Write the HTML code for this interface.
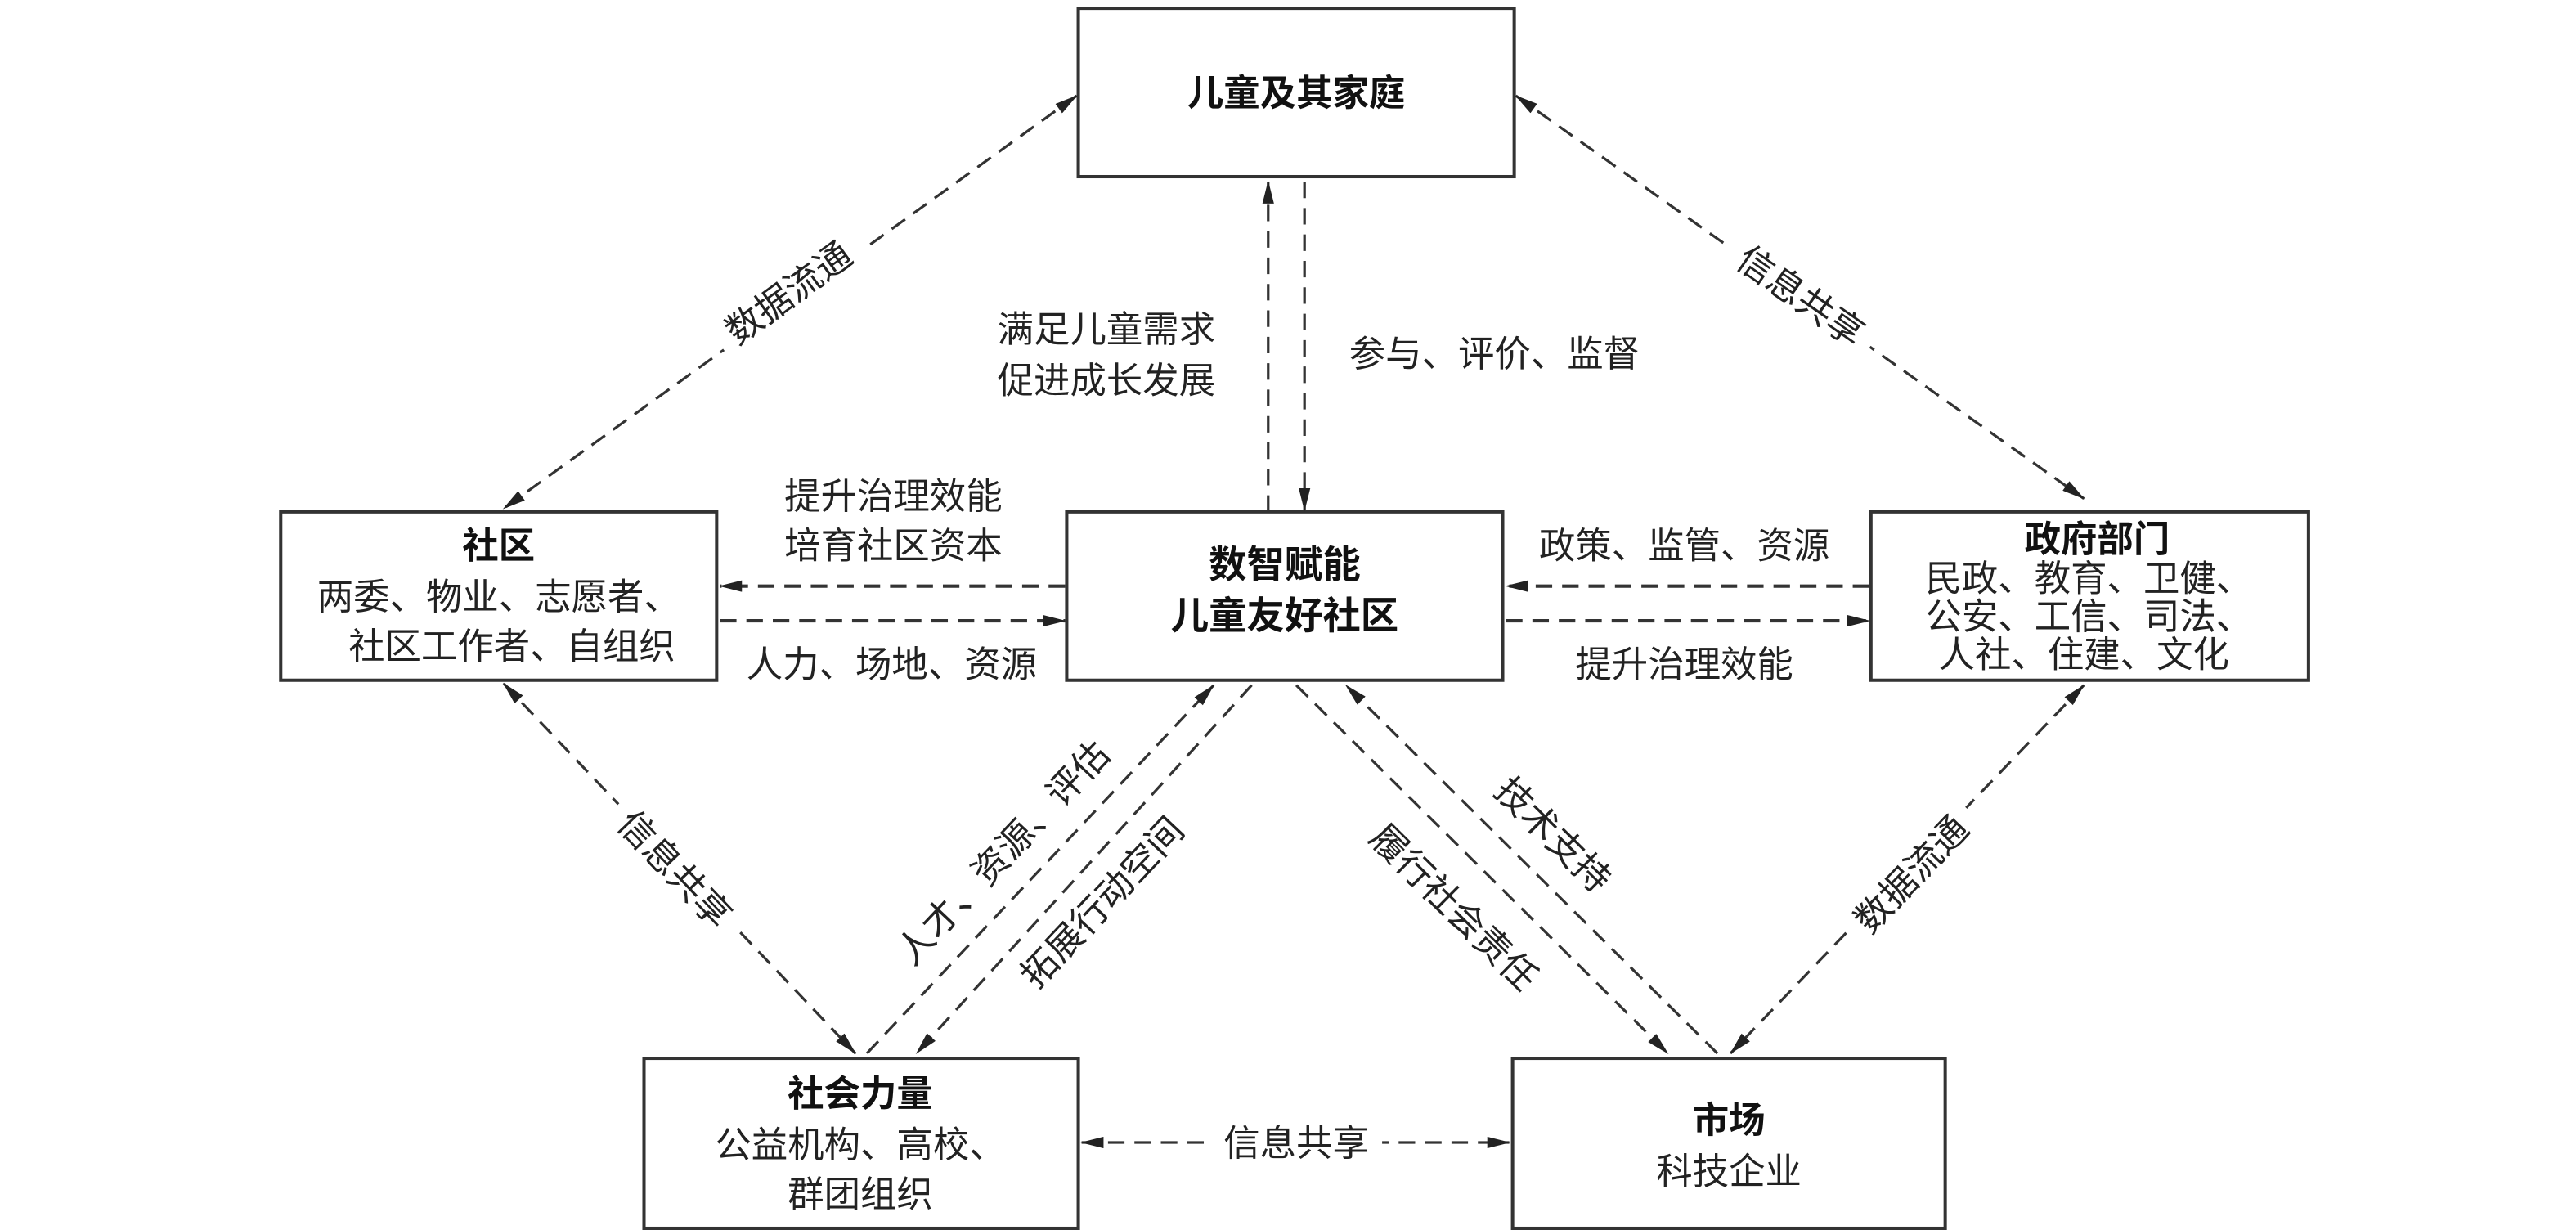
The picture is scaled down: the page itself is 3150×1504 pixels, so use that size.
<!DOCTYPE html>
<html><head><meta charset="utf-8"><style>
html,body{margin:0;padding:0;background:#fff;}
svg{display:block;}
text{font-family:"Liberation Sans","Noto Sans CJK SC",sans-serif;fill:#222;}
.b{font-weight:bold;fill:#111;}
</style></head><body>
<svg width="3150" height="1504" viewBox="0 0 1560 745" preserveAspectRatio="none" xmlns="http://www.w3.org/2000/svg">
<defs>
<marker id="a" viewBox="0 0 20 10" refX="19" refY="5" markerWidth="16" markerHeight="7" orient="auto-start-reverse" markerUnits="userSpaceOnUse">
<path d="M0,0 L20,5 L0,10 Z" fill="#222"/></marker>
</defs>
<g fill="#fff" stroke="#333" stroke-width="2">
<rect x="653" y="5" width="264" height="102"/>
<rect x="170" y="310" width="264" height="102"/>
<rect x="646" y="310" width="264" height="102"/>
<rect x="1133" y="310" width="265" height="102"/>
<rect x="390" y="641" width="263" height="103"/>
<rect x="916" y="641" width="262" height="103"/>
</g>
<g stroke="#333" stroke-width="1.6" stroke-dasharray="10,6" fill="none">
<line x1="652" y1="58" x2="305" y2="308" marker-start="url(#a)" marker-end="url(#a)"/>
<line x1="918" y1="58" x2="1262" y2="302" marker-start="url(#a)" marker-end="url(#a)"/>
<line x1="768" y1="310" x2="768" y2="110" marker-end="url(#a)"/>
<line x1="790" y1="110" x2="790" y2="309" marker-end="url(#a)"/>
<line x1="645" y1="355" x2="436" y2="355" marker-end="url(#a)" stroke-width="2"/>
<line x1="436" y1="376" x2="645" y2="376" marker-end="url(#a)" stroke-width="2"/>
<line x1="1132" y1="355" x2="912" y2="355" marker-end="url(#a)" stroke-width="2"/>
<line x1="912" y1="376" x2="1132" y2="376" marker-end="url(#a)" stroke-width="2"/>
<line x1="305" y1="414" x2="518" y2="638" marker-start="url(#a)" marker-end="url(#a)"/>
<line x1="525" y1="638" x2="735" y2="415" marker-end="url(#a)"/>
<line x1="758" y1="415" x2="555" y2="638" marker-end="url(#a)"/>
<line x1="785" y1="415" x2="1010" y2="638" marker-end="url(#a)"/>
<line x1="1040" y1="638" x2="815" y2="415" marker-end="url(#a)"/>
<line x1="1262" y1="415" x2="1048" y2="638" marker-start="url(#a)" marker-end="url(#a)"/>
<line x1="655" y1="692" x2="914" y2="692" marker-start="url(#a)" marker-end="url(#a)"/>
</g>
<g font-size="22" class="b" text-anchor="middle">
<text x="785" y="64" class="b">儿童及其家庭</text>
<text x="302" y="338" class="b">社区</text>
<text x="778" y="350" class="b" font-size="23">数智赋能</text>
<text x="778" y="381" class="b" font-size="23">儿童友好社区</text>
<text x="1270" y="334" class="b">政府部门</text>
<text x="521" y="670" class="b">社会力量</text>
<text x="1047" y="686" class="b">市场</text>
</g>
<g font-size="22" text-anchor="middle">
<text x="302" y="369">两委、物业、志愿者、</text>
<text x="310" y="399">社区工作者、自组织</text>
<text x="1265" y="358">民政、教育、卫健、</text>
<text x="1265" y="381">公安、工信、司法、</text>
<text x="1262" y="404">人社、住建、文化</text>
<text x="521" y="701">公益机构、高校、</text>
<text x="521" y="731">群团组织</text>
<text x="1047" y="717">科技企业</text>
<text x="670" y="207" text-anchor="middle">满足儿童需求</text>
<text x="670" y="238" text-anchor="middle">促进成长发展</text>
<text x="905" y="222">参与、评价、监督</text>
<text x="541" y="308">提升治理效能</text>
<text x="541" y="338">培育社区资本</text>
<text x="540" y="410">人力、场地、资源</text>
<text x="1020" y="338">政策、监管、资源</text>
<text x="1020" y="410">提升治理效能</text>
<rect x="733" y="679" width="104" height="26" fill="#fff"/>
<text x="785" y="700">信息共享</text>
<g transform="translate(478,178) rotate(-36)"><rect x="-52" y="-16" width="104" height="30" fill="#fff"/><text x="0" y="7">数据流通</text></g>
<g transform="translate(1090,180) rotate(35)"><rect x="-52" y="-16" width="104" height="30" fill="#fff"/><text x="0" y="7">信息共享</text></g>
<g transform="translate(408,527) rotate(46.4)"><rect x="-52" y="-16" width="104" height="30" fill="#fff"/><text x="0" y="7">信息共享</text></g>
<g transform="translate(1158,530) rotate(-46.2)"><rect x="-52" y="-16" width="104" height="30" fill="#fff"/><text x="0" y="7">数据流通</text></g>
<g transform="translate(608,517) rotate(-46.7)"><text x="0" y="7">人才、资源、评估</text></g>
<g transform="translate(668,547) rotate(-46.7)"><text x="0" y="7">拓展行动空间</text></g>
<g transform="translate(880,550) rotate(44.7)"><text x="0" y="7">履行社会责任</text></g>
<g transform="translate(940,506) rotate(44.7)"><text x="0" y="7">技术支持</text></g>
</g>
</svg>
</body></html>
